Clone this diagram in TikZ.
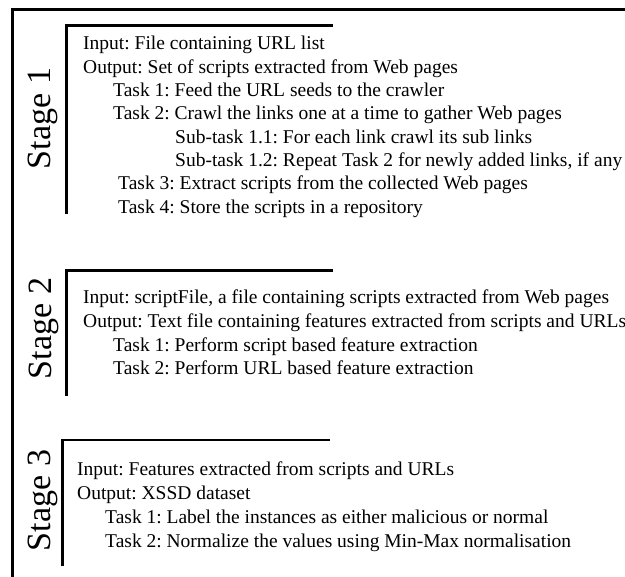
\documentclass[tikz,border=0pt]{standalone}
\usepackage{fontspec}
\setmainfont{Liberation Serif}
\frenchspacing
\begin{document}
\begin{tikzpicture}[x=1pt,y=-1pt,
  line/.style={anchor=base west,inner sep=0pt,font=\fontsize{19.5}{21}\selectfont},
  stagelabel/.style={anchor=base,rotate=90,inner sep=0pt,font=\fontsize{34}{36}\selectfont},
  frame/.style={line width=3pt},
  bracket/.style={line width=2.8pt}]
\useasboundingbox (0,0) rectangle (625,577);

% outer frame
\draw[frame] (625,9.5) -- (12.5,9.5) -- (12.5,577);

% ---- Stage 1 ----
\draw[bracket] (333,25.5) -- (66.8,25.5) -- (66.8,214);
\node[stagelabel] (s1) at (50,118.5) {Stage 1};
\node[line] (s1in)  at (83,50)    {Input: File containing URL list};
\node[line] (s1out) at (83,73.3)  {Output: Set of scripts extracted from Web pages};
\node[line] (s1t1)  at (113,96.6) {Task 1: Feed the URL seeds to the crawler};
\node[line] (s1t2)  at (113,119.9) {Task 2: Crawl the links one at a time to gather Web pages};
\node[line] (s1s1)  at (175,143.2) {Sub-task 1.1: For each link crawl its sub links};
\node[line] (s1s2)  at (175,166.5) {Sub-task 1.2: Repeat Task 2 for newly added links, if any};
\node[line] (s1t3)  at (118,189.8) {Task 3: Extract scripts from the collected Web pages};
\node[line] (s1t4)  at (118,213.1) {Task 4: Store the scripts in a repository};

% ---- Stage 2 ----
\draw[bracket] (333,270.5) -- (66.8,270.5) -- (66.8,396);
\node[stagelabel] (s2) at (51,328.5) {Stage 2};
\node[line] (s2in)  at (83,304)  {Input: scriptFile, a file containing scripts extracted from Web pages};
\node[line] (s2out) at (83,327.6) {Output: Text file containing features extracted from scripts and URLs};
\node[line] (s2t1)  at (113,351.2) {Task 1: Perform script based feature extraction};
\node[line] (s2t2)  at (113,374.8) {Task 2: Perform URL based feature extraction};

% ---- Stage 3 ----
\draw[bracket] (330,440) -- (62.2,440) -- (62.2,566);
\node[stagelabel] (s3) at (50,500.5) {Stage 3};
\node[line] (s3in)  at (77,476)  {Input: Features extracted from scripts and URLs};
\node[line] (s3out) at (77,499.7) {Output: XSSD dataset};
\node[line] (s3t1)  at (105,523.4) {Task 1: Label the instances as either malicious or normal};
\node[line] (s3t2)  at (105,547.1) {Task 2: Normalize the values using Min-Max normalisation};
\end{tikzpicture}
\end{document}
